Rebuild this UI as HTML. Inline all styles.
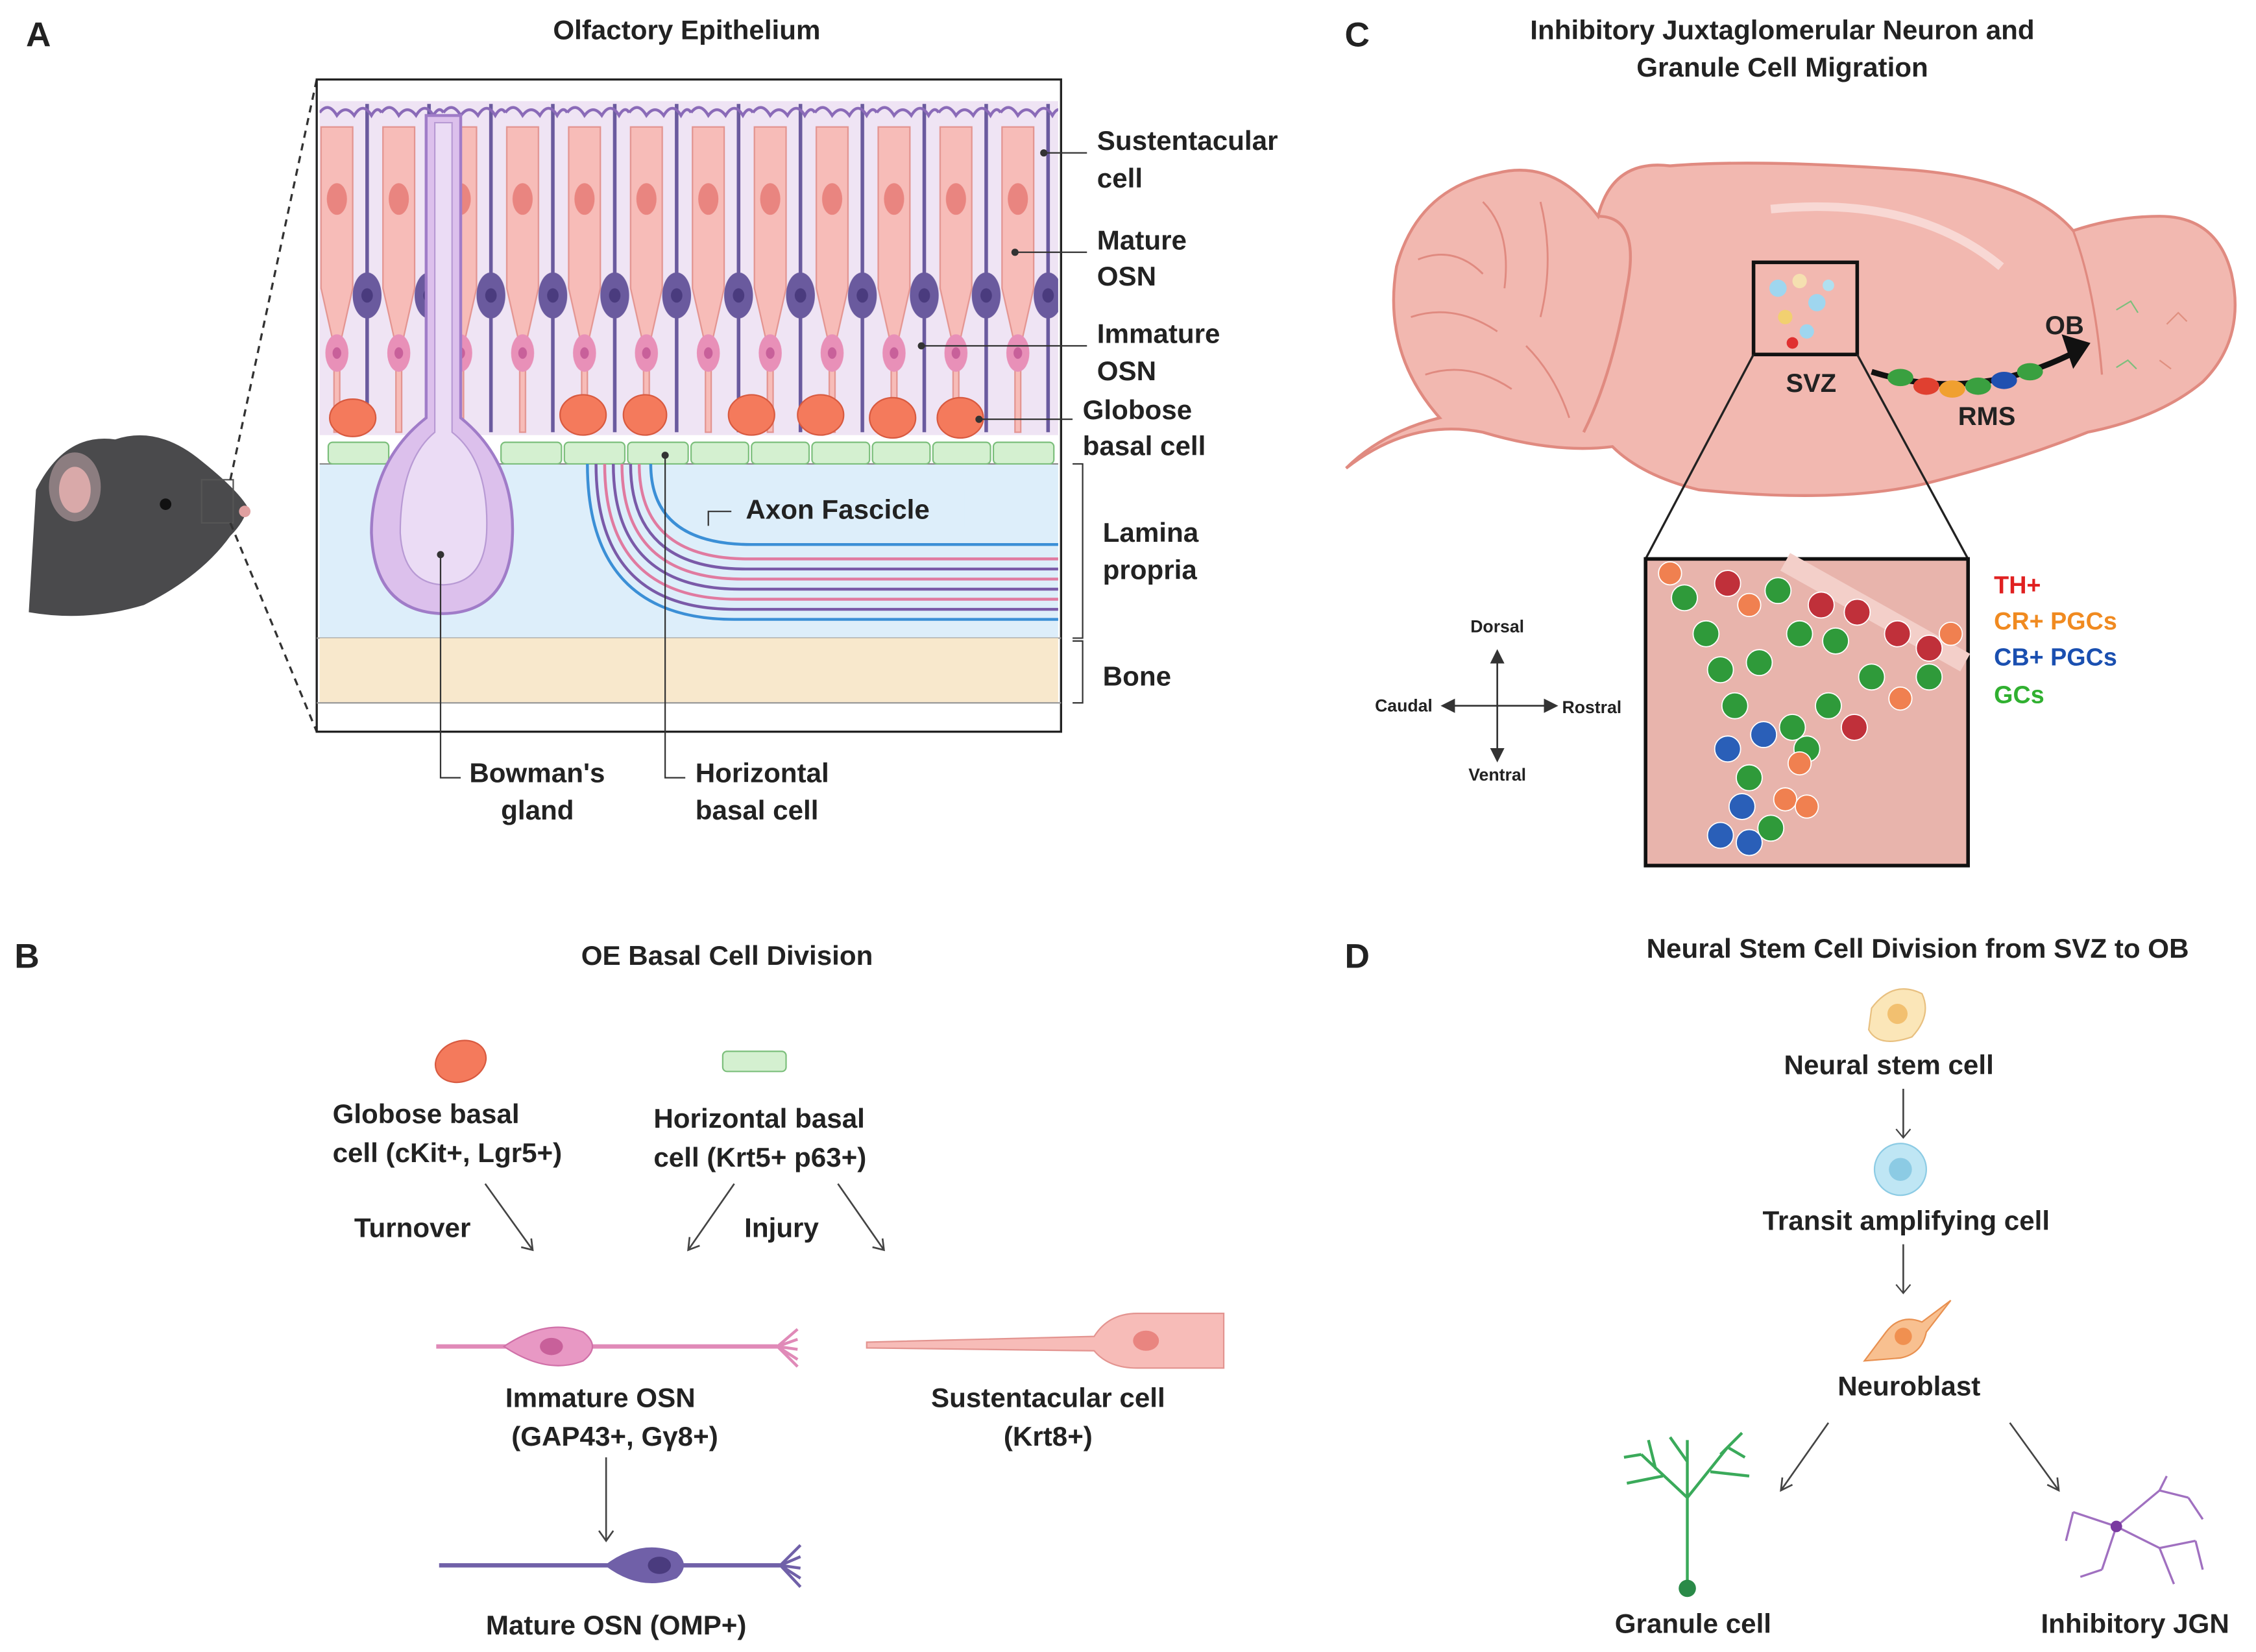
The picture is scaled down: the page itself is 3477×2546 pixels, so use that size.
<!DOCTYPE html>
<html><head><meta charset="utf-8"><style>
html,body{margin:0;padding:0;background:#fff}
svg{display:block}
text{font-family:"Liberation Sans",sans-serif;font-weight:bold;fill:#222}
</style></head><body>
<svg width="3477" height="2546" viewBox="0 0 1567 1147" xmlns="http://www.w3.org/2000/svg">
<defs>
<pattern id="oe" patternUnits="userSpaceOnUse" x="222" y="0" width="43" height="1147">
<rect x="0" y="0" width="43" height="1147" fill="#efe4f4"/>
<path d="M1 88 L23 88 L23 200 L14 240 L14 300 L10 300 L10 240 L1 200 Z" fill="#f7bcb8" stroke="#e39490" stroke-width="1"/>
<ellipse cx="12" cy="138" rx="7" ry="11" fill="#e98580"/>
<line x1="33" y1="72" x2="33" y2="300" stroke="#6a5a9e" stroke-width="2.5"/>
<ellipse cx="33" cy="205" rx="10" ry="16" fill="#6a5a9e"/>
<ellipse cx="33" cy="205" rx="4" ry="5" fill="#4a3b7e"/>
<ellipse cx="12" cy="245" rx="8" ry="13" fill="#e890b8"/>
<ellipse cx="12" cy="245" rx="3" ry="4" fill="#c8609a"/>
<path d="M0 78 Q6 70 12 80 Q18 72 24 80 Q30 70 36 80 Q40 73 43 78" stroke="#8a6ab8" stroke-width="2" fill="none"/>
</pattern>
</defs>

<!-- PANEL A -->
<text x="18" y="32" font-size="24">A</text>
<text x="477" y="27" font-size="19" text-anchor="middle">Olfactory Epithelium</text>
<!-- mouse -->
<path d="M25 340 Q45 300 80 305 Q110 295 140 320 Q165 340 172 352 Q170 362 160 372 Q140 400 100 420 Q60 432 20 425 Z" fill="#4a4a4c"/>
<ellipse cx="52" cy="338" rx="18" ry="24" fill="#8c7d80"/>
<ellipse cx="52" cy="340" rx="11" ry="16" fill="#d9a9a9"/>
<circle cx="115" cy="350" r="4" fill="#111"/>
<circle cx="170" cy="355" r="4" fill="#e0a0a0"/>
<rect x="140" y="333" width="22" height="30" fill="none" stroke="#555" stroke-width="1"/>
<line x1="160" y1="333" x2="220" y2="55" stroke="#333" stroke-dasharray="5,4" stroke-width="1.5"/>
<line x1="160" y1="363" x2="220" y2="508" stroke="#333" stroke-dasharray="5,4" stroke-width="1.5"/>
<!-- epithelium -->
<rect x="220" y="55" width="517" height="453" fill="#fff" stroke="#222" stroke-width="1.5"/>
<rect x="222" y="70" width="513" height="232" fill="url(#oe)"/>
<rect x="222" y="322" width="513" height="121" fill="#ddeefa"/>
<line x1="220" y1="443" x2="737" y2="443" stroke="#999"/>
<rect x="222" y="443" width="513" height="45" fill="#f8e8cc"/>
<line x1="220" y1="488" x2="737" y2="488" stroke="#999"/>
<line x1="222" y1="322" x2="735" y2="322" stroke="#888"/>
<!-- basal green cells -->
<g fill="#d4f0d0" stroke="#7cbf7c">
<rect x="228" y="307" width="42" height="15" rx="3"/>
<rect x="348" y="307" width="42" height="15" rx="3"/><rect x="392" y="307" width="42" height="15" rx="3"/>
<rect x="436" y="307" width="42" height="15" rx="3"/><rect x="480" y="307" width="40" height="15" rx="3"/>
<rect x="522" y="307" width="40" height="15" rx="3"/><rect x="564" y="307" width="40" height="15" rx="3"/>
<rect x="606" y="307" width="40" height="15" rx="3"/><rect x="648" y="307" width="40" height="15" rx="3"/>
<rect x="690" y="307" width="42" height="15" rx="3"/>
</g>
<!-- globose -->
<g fill="#f47a5c" stroke="#d85a40">
<ellipse cx="245" cy="290" rx="16" ry="13"/><ellipse cx="405" cy="288" rx="16" ry="14"/>
<ellipse cx="448" cy="288" rx="15" ry="14"/><ellipse cx="522" cy="288" rx="16" ry="14"/>
<ellipse cx="570" cy="288" rx="16" ry="14"/><ellipse cx="620" cy="290" rx="16" ry="14"/>
<ellipse cx="667" cy="290" rx="16" ry="14"/>
</g>
<!-- Bowman's gland -->
<path d="M296 80 L320 80 L320 290 Q357 320 356 370 Q355 425 308 426 Q260 425 258 370 Q258 320 296 290 Z" fill="#dcc0ec" stroke="#a07cc8" stroke-width="2"/>
<path d="M302 85 L314 85 L314 300 Q340 320 338 370 Q336 405 308 406 Q280 405 278 370 Q278 320 302 300 Z" fill="#ebdcf5" stroke="#b89ad4"/>
<!-- axon fascicle -->
<g fill="none" stroke-width="2">
<path d="M408 322 Q408 430 510 430 L735 430" stroke="#3b8fd6"/>
<path d="M414 322 Q414 423 510 423 L735 423" stroke="#7a5aa8"/>
<path d="M420 322 Q420 416 512 416 L735 416" stroke="#e07aa0"/>
<path d="M426 322 Q426 409 514 409 L735 409" stroke="#7a5aa8"/>
<path d="M432 322 Q432 402 516 402 L735 402" stroke="#e07aa0"/>
<path d="M438 322 Q438 395 518 395 L735 395" stroke="#7a5aa8"/>
<path d="M444 322 Q444 388 520 388 L735 388" stroke="#e07aa0"/>
<path d="M452 322 Q452 378 522 378 L735 378" stroke="#3b8fd6"/>
</g>
<rect x="490" y="340" width="180" height="26" fill="#ddeefa"/>
<text x="518" y="360" font-size="19">Axon Fascicle</text>
<!-- leaders -->
<g stroke="#333" stroke-width="1" fill="none">
<polyline points="725,106 755,106"/><circle cx="725" cy="106" r="2" fill="#333"/>
<polyline points="705,175 755,175"/><circle cx="705" cy="175" r="2" fill="#333"/>
<polyline points="640,240 755,240"/><circle cx="640" cy="240" r="2" fill="#333"/>
<polyline points="680,291 745,291"/><circle cx="680" cy="291" r="2" fill="#333"/>
<polyline points="306,385 306,540 320,540"/><circle cx="306" cy="385" r="2" fill="#333"/>
<polyline points="462,316 462,540 476,540"/><circle cx="462" cy="316" r="2" fill="#333"/>
<polyline points="492,365 492,355 508,355"/>
<polyline points="745,322 752,322 752,443 745,443"/>
<polyline points="745,445 752,445 752,488 745,488"/>
</g>
<g font-size="19">
<text x="762" y="104">Sustentacular</text><text x="762" y="130">cell</text>
<text x="762" y="173">Mature</text><text x="762" y="198">OSN</text>
<text x="762" y="238">Immature</text><text x="762" y="264">OSN</text>
<text x="752" y="291">Globose</text><text x="752" y="316">basal cell</text>
<text x="766" y="376">Lamina</text><text x="766" y="402">propria</text>
<text x="766" y="476">Bone</text>
<text x="326" y="543">Bowman's</text><text x="348" y="569">gland</text>
<text x="483" y="543">Horizontal</text><text x="483" y="569">basal cell</text>
</g>

<!-- PANEL B -->
<text x="10" y="672" font-size="24">B</text>
<text x="505" y="670" font-size="19" text-anchor="middle">OE Basal Cell Division</text>
<ellipse cx="320" cy="737" rx="18" ry="14" fill="#f47a5c" stroke="#d85a40" transform="rotate(-20 320 737)"/>
<rect x="502" y="730" width="44" height="14" rx="3" fill="#d4f0d0" stroke="#7cbf7c"/>
<g font-size="19">
<text x="231" y="780">Globose basal</text><text x="231" y="807">cell (cKit+, Lgr5+)</text>
<text x="454" y="783">Horizontal basal</text><text x="454" y="810">cell (Krt5+ p63+)</text>
<text x="246" y="859">Turnover</text><text x="517" y="859">Injury</text>
<text x="417" y="977" text-anchor="middle">Immature OSN</text>
<text x="427" y="1004" text-anchor="middle">(GAP43+, Gγ8+)</text>
<text x="728" y="977" text-anchor="middle">Sustentacular cell</text>
<text x="728" y="1004" text-anchor="middle">(Krt8+)</text>
<text x="428" y="1135" text-anchor="middle">Mature OSN (OMP+)</text>
</g>
<g stroke="#444" stroke-width="1.2" fill="none">
<line x1="337" y1="822" x2="370" y2="868"/><polyline points="362,866 370,868 369,860"/>
<line x1="510" y1="822" x2="478" y2="868"/><polyline points="479,859 478,868 486,865"/>
<line x1="582" y1="822" x2="614" y2="868"/><polyline points="606,866 614,868 613,860"/>
<line x1="421" y1="1012" x2="421" y2="1070"/><polyline points="416,1063 421,1070 426,1063"/>
</g>
<!-- immature OSN -->
<line x1="303" y1="935" x2="540" y2="935" stroke="#e08ab8" stroke-width="3"/>
<path d="M350 935 Q380 915 405 925 Q418 935 405 945 Q380 955 350 935 Z" fill="#e898c4" stroke="#d070a8"/>
<ellipse cx="383" cy="935" rx="8" ry="6" fill="#c8609a"/>
<path d="M540 935 l14 -12 M540 935 l14 -5 M540 935 l14 2 M540 935 l14 9 M540 935 l14 14" stroke="#e08ab8" stroke-width="2"/>
<!-- sustentacular -->
<path d="M602 932 L760 928 Q770 912 790 912 L850 912 L850 950 L790 950 Q770 950 760 938 L602 936 Z" fill="#f7bcb8" stroke="#e39490"/>
<ellipse cx="796" cy="931" rx="9" ry="7" fill="#e98580"/>
<!-- mature OSN -->
<line x1="305" y1="1087" x2="542" y2="1087" stroke="#7060a8" stroke-width="3"/>
<path d="M420 1087 Q445 1068 470 1078 Q480 1087 470 1096 Q445 1106 420 1087 Z" fill="#7060a8"/>
<ellipse cx="458" cy="1087" rx="8" ry="6" fill="#4a3b7e"/>
<path d="M542 1087 l14 -14 M542 1087 l14 -6 M542 1087 l14 2 M542 1087 l14 9 M542 1087 l14 15" stroke="#7060a8" stroke-width="2"/>

<!-- PANEL C -->
<text x="934" y="32" font-size="24">C</text>
<text x="1238" y="27" font-size="19" text-anchor="middle">Inhibitory Juxtaglomerular Neuron and</text>
<text x="1238" y="53" font-size="19" text-anchor="middle">Granule Cell Migration</text>
<!-- brain -->
<path d="M935 325 Q980 290 1030 300 Q1080 315 1120 310 Q1140 330 1180 340 Q1280 350 1340 335 Q1400 320 1450 300 Q1500 290 1530 265 Q1560 235 1550 190 Q1540 150 1500 150 Q1470 150 1440 160 Q1410 125 1330 118 Q1220 110 1160 115 Q1120 110 1110 150 Q1080 110 1040 120 Q985 130 970 185 Q960 245 1000 290 Q960 300 935 325 Z" fill="#f2b8b0" stroke="#e08a80" stroke-width="2"/>
<path d="M1110 150 Q1140 150 1130 200 Q1120 260 1100 300" fill="none" stroke="#e08a80" stroke-width="2"/>
<path d="M1440 160 Q1455 200 1460 260" fill="none" stroke="#e08a80" stroke-width="1.5"/>
<g fill="none" stroke="#e08a80" stroke-width="1.3">
<path d="M985 180 Q1010 170 1030 190"/><path d="M980 220 Q1010 210 1040 230"/><path d="M990 260 Q1020 250 1050 270"/>
<path d="M1030 140 Q1050 160 1045 200"/><path d="M1070 140 Q1080 180 1070 220"/><path d="M1060 240 Q1080 260 1090 290"/>
</g>
<path d="M1230 145 Q1330 135 1390 185" fill="none" stroke="#f8d8d4" stroke-width="6"/>
<rect x="1218" y="182" width="72" height="64" fill="none" stroke="#111" stroke-width="2.5"/>
<g><circle cx="1235" cy="200" r="6" fill="#9fd6ef"/><circle cx="1250" cy="195" r="5" fill="#f5e0b0"/><circle cx="1262" cy="210" r="6" fill="#9fd6ef"/><circle cx="1240" cy="220" r="5" fill="#f2d070"/><circle cx="1255" cy="230" r="5" fill="#9fd6ef"/><circle cx="1245" cy="238" r="4" fill="#e03030"/><circle cx="1270" cy="198" r="4" fill="#b0e0f0"/></g>
<text x="1258" y="272" font-size="18" text-anchor="middle">SVZ</text>
<path d="M1300 258 Q1370 280 1440 245" fill="none" stroke="#111" stroke-width="4"/>
<path d="M1432 232 L1452 238 L1440 256 Z" fill="#111"/>
<g><ellipse cx="1320" cy="262" rx="9" ry="6" fill="#3aa040"/><ellipse cx="1338" cy="268" rx="9" ry="6" fill="#e04030"/><ellipse cx="1356" cy="270" rx="9" ry="6" fill="#f0a030"/><ellipse cx="1374" cy="268" rx="9" ry="6" fill="#3aa040"/><ellipse cx="1392" cy="264" rx="9" ry="6" fill="#2050b0"/><ellipse cx="1410" cy="258" rx="9" ry="6" fill="#3aa040"/></g>
<text x="1380" y="295" font-size="18" text-anchor="middle">RMS</text>
<text x="1434" y="232" font-size="18" text-anchor="middle">OB</text>
<g fill="none" stroke-width="1"><path d="M1470 215 l10 -6 l5 8" stroke="#7cbf7c"/><path d="M1505 225 l8 -8 l6 6" stroke="#e09080"/><path d="M1470 255 l8 -5 l6 6" stroke="#7cbf7c"/><path d="M1500 250 l8 6" stroke="#e09080"/></g>
<!-- zoom lines -->
<line x1="1218" y1="246" x2="1143" y2="388" stroke="#222" stroke-width="1.5"/>
<line x1="1290" y1="246" x2="1367" y2="388" stroke="#222" stroke-width="1.5"/>
<rect x="1143" y="388" width="224" height="213" fill="#e8b4ac" stroke="#111" stroke-width="2.5"/>
<path d="M1240 390 L1365 460" stroke="#f3cfc9" stroke-width="14"/>
<g stroke="#fff" stroke-width="0.8">
<g fill="#2f9a3a"><circle cx="1170" cy="415" r="9"/><circle cx="1185" cy="440" r="9"/><circle cx="1195" cy="465" r="9"/><circle cx="1205" cy="490" r="9"/><circle cx="1222" cy="460" r="9"/><circle cx="1250" cy="440" r="9"/><circle cx="1275" cy="445" r="9"/><circle cx="1300" cy="470" r="9"/><circle cx="1270" cy="490" r="9"/><circle cx="1245" cy="505" r="9"/><circle cx="1215" cy="540" r="9"/><circle cx="1230" cy="575" r="9"/><circle cx="1255" cy="520" r="9"/><circle cx="1340" cy="470" r="9"/><circle cx="1235" cy="410" r="9"/></g>
<g fill="#c0303a"><circle cx="1200" cy="405" r="9"/><circle cx="1265" cy="420" r="9"/><circle cx="1290" cy="425" r="9"/><circle cx="1318" cy="440" r="9"/><circle cx="1340" cy="450" r="9"/><circle cx="1288" cy="505" r="9"/></g>
<g fill="#f08050"><circle cx="1160" cy="398" r="8"/><circle cx="1215" cy="420" r="8"/><circle cx="1320" cy="485" r="8"/><circle cx="1250" cy="530" r="8"/><circle cx="1240" cy="555" r="8"/><circle cx="1255" cy="560" r="8"/><circle cx="1355" cy="440" r="8"/></g>
<g fill="#2a5fb8"><circle cx="1200" cy="520" r="9"/><circle cx="1210" cy="560" r="9"/><circle cx="1195" cy="580" r="9"/><circle cx="1215" cy="585" r="9"/><circle cx="1225" cy="510" r="9"/></g>
</g>
<g font-size="17">
<text x="1385" y="412" style="fill:#e02020">TH+</text>
<text x="1385" y="437" style="fill:#f08a20">CR+ PGCs</text>
<text x="1385" y="462" style="fill:#1a4fb0">CB+ PGCs</text>
<text x="1385" y="488" style="fill:#30b030">GCs</text>
</g>
<g stroke="#333" stroke-width="1.2" fill="#333">
<line x1="1040" y1="455" x2="1040" y2="525"/><line x1="1005" y1="490" x2="1078" y2="490"/>
<path d="M1036 460 L1040 452 L1044 460 Z"/><path d="M1036 520 L1040 528 L1044 520 Z"/>
<path d="M1010 486 L1002 490 L1010 494 Z"/><path d="M1073 486 L1081 490 L1073 494 Z"/>
</g>
<g font-size="12" style="font-weight:normal">
<text x="1040" y="439" text-anchor="middle" font-weight="normal">Dorsal</text>
<text x="1040" y="542" text-anchor="middle" font-weight="normal">Ventral</text>
<text x="995" y="494" text-anchor="end" font-weight="normal">Caudal</text>
<text x="1085" y="495" font-weight="normal">Rostral</text>
</g>

<!-- PANEL D -->
<text x="934" y="672" font-size="24">D</text>
<text x="1332" y="665" font-size="19" text-anchor="middle">Neural Stem Cell Division from SVZ to OB</text>
<path d="M1300 700 Q1315 680 1335 690 Q1342 705 1328 720 Q1305 728 1298 715 Z" fill="#fbe6b8" stroke="#e8c080"/>
<circle cx="1318" cy="704" r="7" fill="#f2c070"/>
<text x="1312" y="746" font-size="19" text-anchor="middle">Neural stem cell</text>
<line x1="1322" y1="756" x2="1322" y2="790" stroke="#444" stroke-width="1.2"/><polyline points="1317,784 1322,790 1327,784" stroke="#444" fill="none"/>
<circle cx="1320" cy="812" r="18" fill="#bfe6f4" stroke="#8ccbe4"/><circle cx="1320" cy="812" r="8" fill="#8ccbe4"/>
<text x="1324" y="854" font-size="19" text-anchor="middle">Transit amplifying cell</text>
<line x1="1322" y1="864" x2="1322" y2="898" stroke="#444" stroke-width="1.2"/><polyline points="1317,892 1322,898 1327,892" stroke="#444" fill="none"/>
<path d="M1295 945 L1310 925 Q1320 912 1335 918 L1355 903 L1338 925 Q1335 940 1320 943 Z" fill="#f8c090" stroke="#e89050"/>
<circle cx="1322" cy="928" r="6" fill="#f09050"/>
<text x="1326" y="969" font-size="19" text-anchor="middle">Neuroblast</text>
<g stroke="#444" stroke-width="1.2" fill="none">
<line x1="1270" y1="988" x2="1237" y2="1035"/><polyline points="1238,1026 1237,1035 1245,1031"/>
<line x1="1396" y1="988" x2="1430" y2="1035"/><polyline points="1422,1031 1430,1035 1429,1026"/>
</g>
<!-- granule cell -->
<g stroke="#3aaa5a" stroke-width="2" fill="none">
<line x1="1172" y1="1100" x2="1172" y2="1040"/>
<path d="M1172 1040 L1140 1010 M1172 1040 L1200 1005 M1172 1040 L1172 1000 M1155 1025 L1130 1030 M1150 1020 L1145 1000 M1188 1022 L1215 1025 M1195 1010 L1210 995 M1172 1015 L1160 998 M1140 1010 L1128 1012 M1200 1005 L1212 1012"/>
</g>
<circle cx="1172" cy="1103" r="6" fill="#2a8a48"/>
<text x="1176" y="1134" font-size="19" text-anchor="middle">Granule cell</text>
<!-- JGN -->
<g stroke="#a070c0" stroke-width="1.5" fill="none">
<path d="M1470 1060 L1440 1050 M1470 1060 L1500 1035 L1520 1040 M1470 1060 L1500 1075 L1525 1070 M1470 1060 L1460 1090 M1500 1075 L1510 1100 M1500 1035 L1505 1025 M1440 1050 L1435 1070 M1460 1090 L1445 1095 M1520 1040 L1530 1055 M1525 1070 L1530 1090"/>
</g>
<circle cx="1470" cy="1060" r="4" fill="#7a3aa0"/>
<text x="1483" y="1134" font-size="19" text-anchor="middle">Inhibitory JGN</text>
</svg>
</body></html>
